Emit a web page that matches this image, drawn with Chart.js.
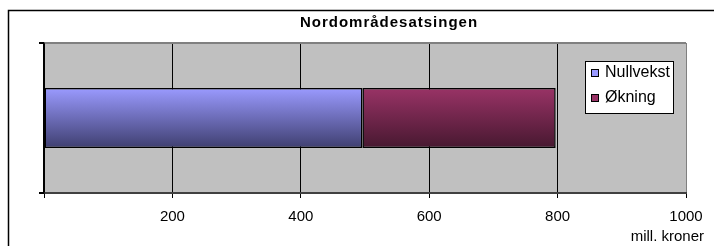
<!DOCTYPE html>
<html>
<head>
<meta charset="utf-8">
<script src="https://cdn.jsdelivr.net/npm/chart.js@4"></script>
<style>
  body { margin: 0; background: #fff; }
  canvas { display: block; }
</style>
</head>
<body>
<canvas id="myChart" width="714" height="246"></canvas>
<script>
const chartTitle = 'Nordområdesatsingen';
const categories = [''];
const seriesNames = ['Nullvekst', 'Økning'];
const nullvekst = [496];
const okning = [301];
const xTicks = [0, 200, 400, 600, 800, 1000];
const xTitle = 'mill. kroner';

const FONT = "'Liberation Sans', Arial, sans-serif";
Chart.defaults.font.family = FONT;
Chart.defaults.color = '#000';

// vertical gradient over the bar thickness
function barGradient(c, topColor, bottomColor) {
    const chart = c.chart;
    const y = chart.scales.y;
    if (!chart.chartArea || !y) return topColor;
    const center = y.getPixelForValue(c.dataIndex);
    const half = (y.height / categories.length) * 0.4 / 2;
    const g = chart.ctx.createLinearGradient(0, center - half, 0, center + half);
    g.addColorStop(0, topColor);
    g.addColorStop(1, bottomColor);
    return g;
}

const frame = {
    id: 'frame',
    beforeDraw(chart) {
        const { ctx, chartArea: a } = chart;
        ctx.save();
        ctx.fillStyle = '#c0c0c0';
        ctx.fillRect(a.left, a.top, a.right - a.left, a.bottom - a.top);
        ctx.strokeStyle = '#000';
        ctx.lineWidth = 1.5;
        ctx.beginPath();
        ctx.moveTo(8.5, chart.height);
        ctx.lineTo(8.5, 10.5);
        ctx.lineTo(chart.width, 10.5);
        ctx.stroke();
        ctx.restore();
    },
    afterDraw(chart) {
        const { ctx } = chart;
        ctx.save();
        // title
        ctx.fillStyle = '#000';
        ctx.font = 'bold 15px ' + FONT;
        ctx.letterSpacing = '1px';
        ctx.textAlign = 'center';
        ctx.textBaseline = 'middle';
        ctx.fillText(chartTitle, 389, 23);
        ctx.letterSpacing = '0px';
        // axis unit
        ctx.font = '15px ' + FONT;
        ctx.textAlign = 'right';
        ctx.fillText(xTitle, 704, 237);
        // legend
        const lx = 585, ly = 61, lw = 88, lh = 52;
        ctx.fillStyle = '#fff';
        ctx.fillRect(lx, ly, lw, lh);
        ctx.strokeStyle = '#000';
        ctx.lineWidth = 1;
        ctx.strokeRect(lx + 0.5, ly + 0.5, lw, lh);
        ctx.font = '16px ' + FONT;
        ctx.textAlign = 'left';
        chart.data.datasets.forEach((ds, i) => {
            const cy = ly + 12 + i * 25;
            ctx.fillStyle = ds.legendColor;
            ctx.fillRect(lx + 6.5, cy - 3.5, 7, 7);
            ctx.strokeRect(lx + 6.5, cy - 3.5, 7, 7);
            ctx.fillStyle = '#000';
            ctx.fillText(ds.label, lx + 20, cy);
        });
        ctx.restore();
    }
};

new Chart(document.getElementById('myChart'), {
    type: 'bar',
    data: {
        labels: categories,
        datasets: [{
            label: seriesNames[0],
            data: nullvekst,
            legendColor: '#9999ff',
            backgroundColor: c => barGradient(c, '#9a9aff', '#3f3f70'),
            borderColor: '#000',
            borderWidth: 1.5,
            borderSkipped: false,
            barPercentage: 0.4,
            categoryPercentage: 1
        }, {
            label: seriesNames[1],
            data: okning,
            legendColor: '#993366',
            backgroundColor: c => barGradient(c, '#993366', '#471830'),
            borderColor: '#000',
            borderWidth: 1.5,
            borderSkipped: false,
            barPercentage: 0.4,
            categoryPercentage: 1
        }]
    },
    options: {
        indexAxis: 'y',
        responsive: false,
        animation: false,
        devicePixelRatio: 1,
        layout: { padding: { top: 43, right: 28, left: 0, bottom: 0 } },
        plugins: {
            legend: { display: false },
            title: { display: false },
            tooltip: { enabled: false }
        },
        scales: {
            x: {
                stacked: true,
                min: 0,
                max: 1000,
                afterBuildTicks: s => { s.ticks = xTicks.map(v => ({ value: v })); },
                afterFit: s => { s.height = 53; },
                ticks: {
                    callback: v => (v === 0 ? '' : v),
                    font: { size: 15 },
                    padding: 10,
                    maxRotation: 0,
                    autoSkip: false
                },
                grid: {
                    color: c => (c.tick && c.tick.value === 1000 ? '#808080' : '#000'),
                    lineWidth: 1,
                    tickColor: '#000',
                    tickLength: 5
                },
                border: { color: '#404040', width: 2 }
            },
            y: {
                stacked: true,
                offset: true,
                afterFit: s => { s.width = 44; },
                ticks: { callback: () => '' },
                grid: {
                    offset: true,
                    color: '#808080',
                    lineWidth: 2,
                    tickColor: '#000',
                    tickLength: 5
                },
                border: { color: '#000', width: 1.5 }
            }
        }
    },
    plugins: [frame]
});
</script>
</body>
</html>
